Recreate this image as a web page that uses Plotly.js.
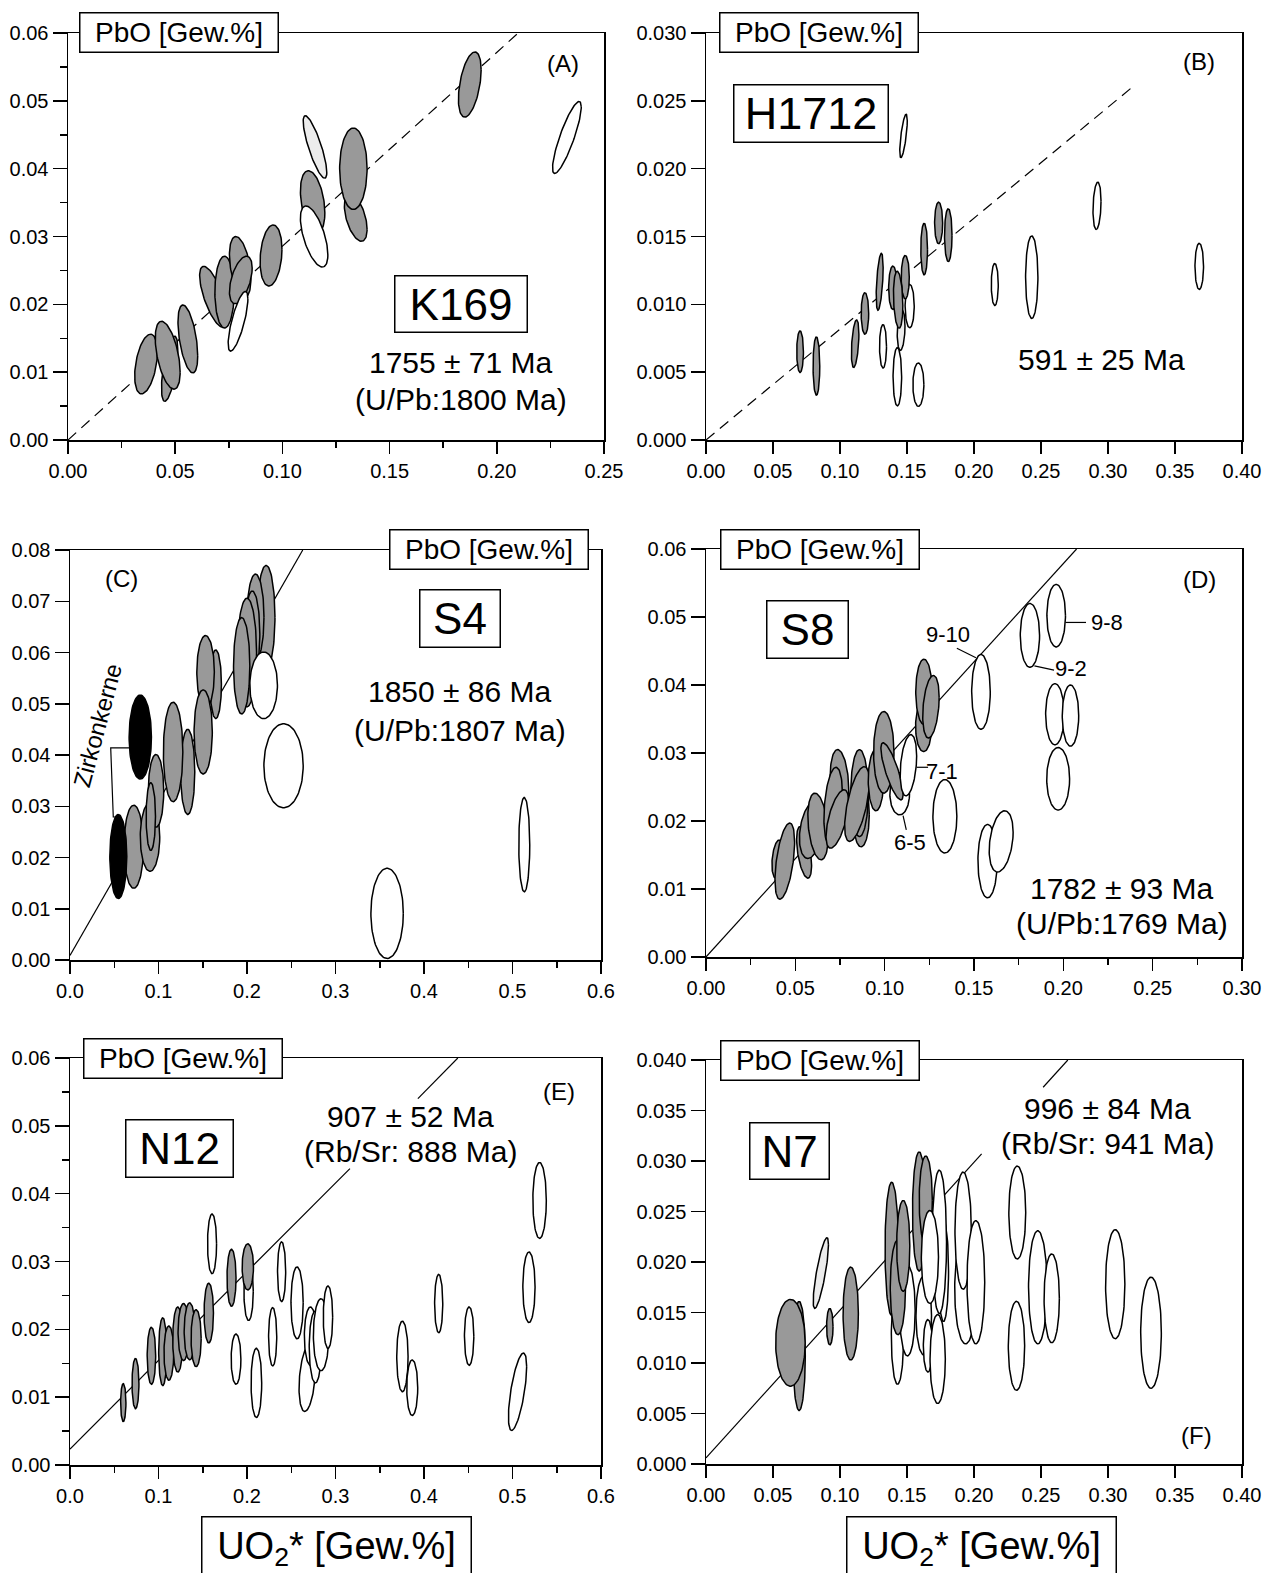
<!DOCTYPE html>
<html><head><meta charset="utf-8">
<script src="https://cdn.plot.ly/plotly-3.0.1.min.js"></script>
<style>body{margin:0;background:#fff}</style>
</head><body><div id="chart" style="width:1274px;height:1573px"></div>
<script>
// ---------- Panel A (K169) ----------
const A_cx  = [0.0474,0.0364,0.0465,0.0559,0.0678,0.0730,0.0803,0.0806,0.0793,0.0947,0.1342,0.1141,0.1148,0.1152,0.1331,0.1874,0.2327];
const A_cy  = [0.0105,0.0112,0.0125,0.0149,0.0211,0.0218,0.0255,0.0236,0.0175,0.0272,0.0328,0.0351,0.0300,0.0432,0.0400,0.0524,0.0446];
const A_rx  = [0.0038,0.0053,0.0058,0.0046,0.0064,0.0045,0.0050,0.0053,0.0046,0.0051,0.0053,0.0057,0.0064,0.0055,0.0064,0.0053,0.0067];
const A_ry  = [0.0048,0.0044,0.0050,0.0050,0.0045,0.0053,0.0045,0.0035,0.0044,0.0045,0.0035,0.0046,0.0045,0.0046,0.0060,0.0048,0.0053];
const A_rho = [0.6,0.4,-0.5,-0.5,-0.7,0,-0.4,0.5,0.75,0.2,-0.5,-0.35,-0.6,-0.82,0,0.45,0.85];
const A_kind= ['g','g','g','g','g','g','g','g','w','g','g','g','w','l','g','g','w'];
const A_lineX = [0, 0.210];
const A_lineY = [0, 0.060];

// ---------- Panel B (H1712) ----------
const B_cx  = [0.0702,0.0824,0.1113,0.1186,0.1321,0.1428,0.1585,0.1456,0.1520,0.1296,0.1395,0.1487,0.1434,0.1474,0.1628,0.1736,0.1808,0.2155,0.2431,0.2918,0.3681];
const B_cy  = [0.00651,0.00545,0.0071,0.00933,0.0069,0.00466,0.00408,0.0081,0.00987,0.01166,0.01122,0.0120,0.01034,0.02241,0.01407,0.0160,0.0151,0.01146,0.0120,0.01726,0.0128];
const B_rx  = [0.0025,0.0025,0.0028,0.0028,0.0026,0.0032,0.0041,0.0029,0.0034,0.0026,0.0032,0.0030,0.0035,0.0028,0.0025,0.0030,0.0028,0.0026,0.0046,0.0030,0.0032];
const B_ry  = [0.00153,0.00215,0.00175,0.00153,0.0016,0.00215,0.0016,0.0015,0.0016,0.0021,0.0016,0.0016,0.0021,0.0016,0.0019,0.00153,0.00195,0.00155,0.00304,0.00174,0.0017];
const B_rho = [0,0,0.4,0,0,0,0,0.2,0,0.5,0,0,-0.2,0.7,0,0,0,0,0,0.2,0];
const B_kind= ['g','g','g','g','w','w','w','l','w','g','g','g','g','w','g','g','g','w','w','w','w'];
const B_lineX = [0, 0.318];
const B_lineY = [0, 0.026];

// ---------- Panel C (S4) ----------
const C_cx  = [0.0720,0.0546,0.0904,0.0972,0.0913,0.0794,0.1330,0.1165,0.1647,0.1532,0.1505,0.2216,0.2096,0.2060,0.2000,0.1940,0.2188,0.2413,0.3583,0.5133];
const C_cy  = [0.0221,0.0202,0.0240,0.0330,0.0280,0.0435,0.0367,0.0406,0.0538,0.0562,0.0445,0.0669,0.0669,0.0636,0.0600,0.0574,0.0536,0.0379,0.0091,0.0225];
const C_rx  = [0.0110,0.0096,0.0110,0.0087,0.0053,0.0126,0.0080,0.0110,0.0064,0.0099,0.0103,0.0100,0.0096,0.0085,0.0108,0.0092,0.0156,0.0222,0.0183,0.0062];
const C_ry  = [0.0081,0.0082,0.0067,0.0071,0.0066,0.0082,0.0083,0.0097,0.0067,0.0071,0.0082,0.0101,0.0084,0.0084,0.0106,0.0094,0.0065,0.0082,0.0088,0.0092];
const C_rho = [0,0,0,0,0,0,0,0,0,0,0,0,0,0,0,0,0,0,0,0];
const C_kind= ['g','b','g','g','g','b','g','g','g','g','g','g','g','g','g','g','w','w','w','w'];
const C_lineX = [0, 0.263];
const C_lineY = [0.0009, 0.080];
const C_bracketX = [0.067, 0.046, 0.0489, 0.053];
const C_bracketY = [0.0414, 0.0414, 0.0279, 0.0279];

// ---------- Panel D (S8) ----------
const D_cx  = [0.0400,0.0441,0.0549,0.0590,0.0627,0.0747,0.0712,0.0735,0.0868,0.0859,0.0845,0.0951,0.0995,0.1084,0.1041,0.1133,0.1218,0.1220,0.1259,0.1337,0.1539,0.1576,0.1652,0.1813,0.1960,0.1953,0.2040,0.1971];
const D_cy  = [0.0144,0.0141,0.0154,0.0187,0.0192,0.0256,0.0221,0.0203,0.0209,0.0241,0.0225,0.0260,0.0301,0.0240,0.0273,0.0282,0.0339,0.0390,0.0368,0.0207,0.0390,0.0141,0.0170,0.0473,0.0502,0.0357,0.0355,0.0262];
const D_rx  = [0.0031,0.0055,0.0042,0.0067,0.0057,0.0052,0.0052,0.0063,0.0046,0.0049,0.0069,0.0043,0.0057,0.0055,0.0062,0.0046,0.0045,0.0046,0.0046,0.0067,0.0052,0.0054,0.0067,0.0054,0.0052,0.0052,0.0046,0.0064];
const D_ry  = [0.0028,0.0056,0.0038,0.0042,0.0049,0.0049,0.0058,0.0043,0.0047,0.0064,0.0055,0.0045,0.0060,0.0031,0.0042,0.0045,0.0037,0.0048,0.0046,0.0054,0.0055,0.0054,0.0045,0.0047,0.0046,0.0045,0.0045,0.0046];
const D_rho = [0.3,0.5,-0.5,0.3,-0.3,-0.2,0.3,0.6,0,0,0.6,0,0,0,-0.8,0.3,0,0,0.3,0,0,0,0.3,0,0,0,0,0];
const D_kind= ['g','g','g','g','g','g','g','g','g','g','g','g','g','w','g','w','g','g','g','w','w','w','w','w','w','w','w','w'];
const D_lineX = [0, 0.2074];
const D_lineY = [0, 0.060];
const D_leadX = [0.1404,0.1511,null,0.2012,0.2127,null,0.1838,0.1948,null,0.1179,0.1243,null,0.1103,0.1121];
const D_leadY = [0.0454,0.0440,null,0.0492,0.0492,null,0.0428,0.0422,null,0.0279,0.0279,null,0.0208,0.0187];
const D_tagText = ['9-10','9-8','9-2','7-1','6-5'];
const D_tagX = [0.1355,0.2242,0.2042,0.1323,0.1139];
const D_tagY = [0.0474,0.0492,0.0424,0.0273,0.0168];

// ---------- Panel E (N12) ----------
const E_cx  = [0.0602,0.0740,0.0920,0.1048,0.1117,0.1218,0.1283,0.1352,0.1425,0.1568,0.1825,0.2018,0.2009,0.1605,0.1876,0.2106,0.2290,0.2391,0.2566,0.2680,0.2717,0.2772,0.2837,0.2915,0.3756,0.3867,0.4166,0.4510,0.5057,0.5186,0.5306];
const E_cy  = [0.0092,0.0120,0.0161,0.0167,0.0165,0.0185,0.0196,0.0197,0.0187,0.0224,0.0276,0.0256,0.0292,0.0326,0.0156,0.0121,0.0189,0.0285,0.0239,0.0128,0.0190,0.0174,0.0192,0.0218,0.0160,0.0114,0.0238,0.0190,0.0108,0.0262,0.0390];
const E_rx  = [0.0030,0.0039,0.0048,0.0046,0.0055,0.0057,0.0062,0.0062,0.0057,0.0053,0.0051,0.0053,0.0064,0.0051,0.0055,0.0060,0.0046,0.0046,0.0069,0.0092,0.0069,0.0069,0.0087,0.0053,0.0064,0.0062,0.0046,0.0053,0.0103,0.0069,0.0076];
const E_ry  = [0.0028,0.0037,0.0042,0.0050,0.0040,0.0048,0.0042,0.0042,0.0042,0.0044,0.0042,0.0043,0.0034,0.0044,0.0037,0.0051,0.0043,0.0044,0.0053,0.0049,0.0043,0.0053,0.0053,0.0046,0.0052,0.0041,0.0043,0.0043,0.0057,0.0052,0.0056];
const E_rho = [0,0,0,0,0,0,0,0,0,0,0,0,0,0,0,0,0,0,0,0.3,0,0,0,0,0,0,0,0,0.65,0,0];
const E_kind= ['g','g','g','g','g','g','g','g','g','g','g','w','g','w','w','w','w','w','w','w','w','w','w','w','w','w','w','w','w','w','w'];
const E_lineX = [0, 0.3163, null, 0.3931, 0.4382];
const E_lineY = [0.00234, 0.0437, null, 0.0540, 0.060];

// ---------- Panel F (N7) ----------
const F_cx  = [0.0857,0.0695,0.0630,0.0924,0.1080,0.1429,0.1503,0.1386,0.1432,0.1472,0.1625,0.1591,0.1640,0.1656,0.1729,0.1772,0.1741,0.1671,0.1937,0.1919,0.2014,0.2323,0.2317,0.2476,0.2580,0.3054,0.3321];
const F_cy  = [0.0189,0.0107,0.0120,0.0136,0.0149,0.0126,0.0152,0.0213,0.0175,0.0216,0.0147,0.0250,0.0261,0.0117,0.0104,0.0191,0.0220,0.0205,0.0173,0.0231,0.0180,0.0249,0.0117,0.0175,0.0164,0.0178,0.0130];
const F_rx  = [0.0057,0.0046,0.0110,0.0024,0.0057,0.0046,0.0058,0.0050,0.0057,0.0049,0.0058,0.0050,0.0049,0.0034,0.0057,0.0038,0.0054,0.0064,0.0081,0.0061,0.0066,0.0063,0.0061,0.0069,0.0057,0.0072,0.0077];
const F_ry  = [0.0035,0.0054,0.0043,0.0018,0.0046,0.0047,0.0045,0.0066,0.0047,0.0045,0.0039,0.0059,0.0044,0.0026,0.0044,0.0050,0.0071,0.0046,0.0054,0.0058,0.0061,0.0046,0.0044,0.0056,0.0044,0.0054,0.0055];
const F_rho = [0.8,0,0,0,0,0,0,0,0,0,0,0,0,0,0,0,0,0,0,0,0,0,0,0,0,0,0];
const F_kind= ['l','g','g','g','g','w','w','g','g','g','w','g','g','w','w','w','w','w','w','w','w','w','w','w','w','w','w'];
const F_lineX = [0, 0.2057, null, 0.2516, 0.270];
const F_lineY = [0.0006, 0.0307, null, 0.0373, 0.040];

// ---------- Texts ----------
const sampleNames = ['K169','H1712','S4','S8','N12','N7'];
const panelTags = ['(A)','(B)','(C)','(D)','(E)','(F)'];
const yTitle = 'PbO [Gew.%]';
const xTitle = 'UO<sub>2</sub>* [Gew.%]';

// ---------- Build ----------
const FONT = 'Liberation Sans, Arial, sans-serif';
const FILL = {g:'#999999', w:'#ffffff', b:'#000000', l:'#ececec'};
const traces = [];

function ellipse(cx, cy, rx, ry, rho){
  const n = 90, s = Math.sqrt(1 - rho*rho), xs = [], ys = [];
  for (let i = 0; i <= n; i++){
    const t = 2*Math.PI*i/n;
    xs.push(cx + rx*Math.cos(t));
    ys.push(cy + ry*(rho*Math.cos(t) + s*Math.sin(t)));
  }
  return [xs, ys];
}
function addLine(xs, ys, ax, dash){
  traces.push({type:'scatter', mode:'lines', x:xs, y:ys, xaxis:'x'+ax, yaxis:'y'+ax,
    line:{color:'#000', width:1.2, dash:dash||'solid'}, hoverinfo:'skip', showlegend:false, connectgaps:false});
}
function addEllipses(cx, cy, rx, ry, rho, kind, ax){
  for (let i = 0; i < cx.length; i++){
    const [xs, ys] = ellipse(cx[i], cy[i], rx[i], ry[i], rho[i]);
    traces.push({type:'scatter', mode:'lines', x:xs, y:ys, xaxis:'x'+ax, yaxis:'y'+ax,
      fill:'toself', fillcolor:FILL[kind[i]], line:{color:'#000', width:1.5},
      hoverinfo:'skip', showlegend:false});
  }
}
addLine(A_lineX, A_lineY, '', '11px,7px');
addEllipses(A_cx, A_cy, A_rx, A_ry, A_rho, A_kind, '');
addLine(B_lineX, B_lineY, '2', '11px,7px');
addEllipses(B_cx, B_cy, B_rx, B_ry, B_rho, B_kind, '2');
addLine(C_lineX, C_lineY, '3');
addLine(C_bracketX, C_bracketY, '3');
addEllipses(C_cx, C_cy, C_rx, C_ry, C_rho, C_kind, '3');
addLine(D_lineX, D_lineY, '4');
addEllipses(D_cx, D_cy, D_rx, D_ry, D_rho, D_kind, '4');
addLine(D_leadX, D_leadY, '4');
addLine(E_lineX, E_lineY, '5');
addEllipses(E_cx, E_cy, E_rx, E_ry, E_rho, E_kind, '5');
addLine(F_lineX, F_lineY, '6');
addEllipses(F_cx, F_cy, F_rx, F_ry, F_rho, F_kind, '6');

const W = 1274, H = 1573;
function xd(l, r){ return [l/W, r/W]; }
function yd(t, b){ return [1 - b/H, 1 - t/H]; }

function xax(dom, range, dtick, minor, fmt, anchor){
  const a = {domain:dom, range:range, dtick:dtick, tick0:0, tickformat:fmt, anchor:anchor,
    showline:true, linecolor:'#000', linewidth:1.5, mirror:true, ticks:'outside', ticklen:12, tickwidth:1.5, tickcolor:'#000',
    showgrid:false, zeroline:false, ticklabelstandoff:0, tickfont:{family:FONT, size:20, color:'#000'}};
  if (minor) a.minor = {dtick:minor, tick0:0, ticks:'outside', ticklen:6, tickwidth:1.5, tickcolor:'#000', showgrid:false};
  return a;
}
function yax(dom, range, dtick, minor, fmt, anchor){
  const a = {domain:dom, range:range, dtick:dtick, tick0:0, tickformat:fmt, anchor:anchor,
    showline:true, linecolor:'#000', linewidth:1.5, mirror:true, ticks:'outside', ticklen:14, tickwidth:1.5, tickcolor:'#000',
    showgrid:false, zeroline:false, ticklabelstandoff:0, tickfont:{family:FONT, size:20, color:'#000'}};
  if (minor) a.minor = {dtick:minor, tick0:0, ticks:'outside', ticklen:7, tickwidth:1.5, tickcolor:'#000', showgrid:false};
  return a;
}

const L = xd(68, 604), R = xd(706, 1242);
const layout = {
  width:W, height:H, margin:{l:0, r:0, t:0, b:0}, paper_bgcolor:'#fff', plot_bgcolor:'#fff', showlegend:false,
  xaxis:  xax(L, [0,0.25], 0.05, 0.025, '.2f', 'y'),
  yaxis:  yax(yd(33,440), [0,0.06], 0.01, 0.005, '.2f', 'x'),
  xaxis2: xax(R, [0,0.40], 0.05, null, '.2f', 'y2'),
  yaxis2: yax(yd(33,440), [0,0.030], 0.005, null, '.3f', 'x2'),
  xaxis3: xax(xd(70,601), [0,0.6], 0.1, 0.05, '.1f', 'y3'),
  yaxis3: yax(yd(550,960), [0,0.08], 0.01, null, '.2f', 'x3'),
  xaxis4: xax(R, [0,0.30], 0.05, 0.025, '.2f', 'y4'),
  yaxis4: yax(yd(549,957), [0,0.06], 0.01, null, '.2f', 'x4'),
  xaxis5: xax(xd(70,601), [0,0.6], 0.1, 0.05, '.1f', 'y5'),
  yaxis5: yax(yd(1058,1465), [0,0.06], 0.01, 0.005, '.2f', 'x5'),
  xaxis6: xax(R, [0,0.40], 0.05, null, '.2f', 'y6'),
  yaxis6: yax(yd(1060,1464), [0,0.040], 0.005, null, '.3f', 'x6'),
  annotations: []
};

const ann = layout.annotations;
function txt(ax, x, y, text, size, extra){
  ann.push(Object.assign({xref:'x'+ax, yref:'y'+ax, x:x, y:y, text:text, showarrow:false,
    xanchor:'center', yanchor:'middle', font:{family:FONT, size:size, color:'#000'}}, extra||{}));
}
function boxed(ax, x, y, text, size, w, h){
  txt(ax, x, y, text, size, {bgcolor:'#fff', bordercolor:'#000', borderwidth:1.5, borderpad:0, width:w, height:h});
}
// PbO axis label boxes on the top frame line
boxed('',  0.0518, 0.06,  yTitle, 28, 197, 38);
boxed('2', 0.084,  0.030, yTitle, 28, 197, 38);
boxed('3', 0.474,  0.08,  yTitle, 28, 197, 38);
boxed('4', 0.0636, 0.06,  yTitle, 28, 197, 38);
boxed('5', 0.1278, 0.06,  yTitle, 28, 197, 38);
boxed('6', 0.0851, 0.040, yTitle, 28, 197, 38);
// sample names
boxed('',  0.1832, 0.0201, sampleNames[0], 44, 131, 55);
boxed('2', 0.0785, 0.0241, sampleNames[1], 45, 153, 56);
boxed('3', 0.4404, 0.0667, sampleNames[2], 44, 79, 56);
boxed('4', 0.0567, 0.0481, sampleNames[3], 44, 80, 56);
boxed('5', 0.1237, 0.0466, sampleNames[4], 44, 106, 56);
boxed('6', 0.0621, 0.0310, sampleNames[5], 44, 78, 55);
// panel tags
txt('',  0.231,  0.0555, panelTags[0], 24);
txt('2', 0.3678, 0.0279, panelTags[1], 24);
txt('3', 0.0587, 0.0744, panelTags[2], 24);
txt('4', 0.2764, 0.0555, panelTags[3], 24);
txt('5', 0.553,  0.0551, panelTags[4], 24);
txt('6', 0.3663, 0.0028, panelTags[5], 24);
// ages
const AGE = 30;
txt('',  0.1832, 0.0114, '1755 ± 71 Ma', AGE);
txt('',  0.1832, 0.0060, '(U/Pb:1800 Ma)', AGE);
txt('2', 0.2952, 0.0059, '591 ± 25 Ma', AGE);
txt('3', 0.4404, 0.0523, '1850 ± 86 Ma', AGE);
txt('3', 0.4404, 0.0448, '(U/Pb:1807 Ma)', AGE);
txt('4', 0.2327, 0.0101, '1782 ± 93 Ma', AGE);
txt('4', 0.2327, 0.0050, '(U/Pb:1769 Ma)', AGE);
txt('5', 0.385,  0.0514, '907 ± 52 Ma', AGE);
txt('5', 0.385,  0.0462, '(Rb/Sr: 888 Ma)', AGE);
txt('6', 0.2996, 0.0352, '996 ± 84 Ma', AGE);
txt('6', 0.2996, 0.0317, '(Rb/Sr: 941 Ma)', AGE);
// D spot tags
for (let i = 0; i < D_tagText.length; i++) txt('4', D_tagX[i], D_tagY[i], D_tagText[i], 22);
// Zirkonkerne
txt('3', 0.0316, 0.0459, 'Zirkonkerne', 24, {textangle:-75});
// x axis titles
ann.push({xref:'paper', yref:'paper', x:336/W, y:1-1516/H, xanchor:'center', yanchor:'top', showarrow:false,
  text:xTitle, font:{family:FONT, size:38, color:'#000'}, bgcolor:'#fff', bordercolor:'#000', borderwidth:1.5, borderpad:0, width:268, height:62});
ann.push({xref:'paper', yref:'paper', x:981/W, y:1-1516/H, xanchor:'center', yanchor:'top', showarrow:false,
  text:xTitle, font:{family:FONT, size:38, color:'#000'}, bgcolor:'#fff', bordercolor:'#000', borderwidth:1.5, borderpad:0, width:268, height:62});

Plotly.newPlot('chart', traces, layout, {staticPlot:true});
</script></body></html>
